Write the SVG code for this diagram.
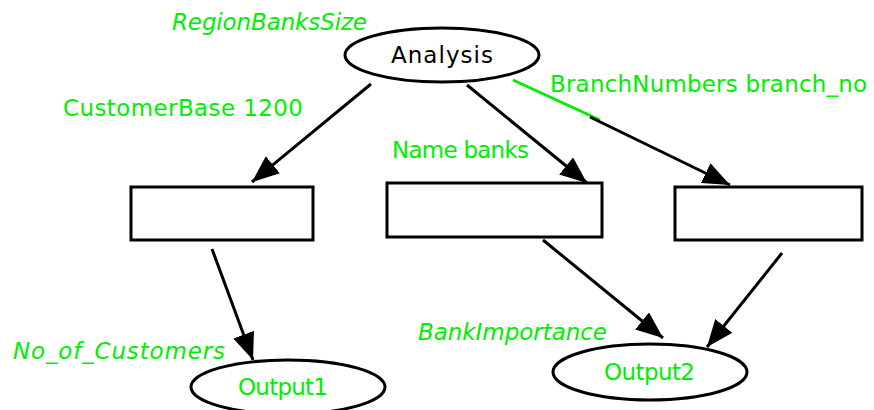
<svg xmlns="http://www.w3.org/2000/svg" width="874" height="410" viewBox="0 0 874 410">
<style>
.node{fill:#fff;stroke:#000;stroke-width:3}
.edge{stroke:#000;stroke-width:3;fill:none;marker-end:url(#ah)}
.lbl{font-family:"DejaVu Sans",Verdana,sans-serif;font-size:23px;fill:#00ee00}
.it{font-style:italic}
.nt{font-family:"DejaVu Sans",Verdana,sans-serif;font-size:23px}
</style>
<defs>
<marker id="ah" markerUnits="userSpaceOnUse" markerWidth="28" markerHeight="24" refX="27" refY="11" orient="auto">
<path d="M0,0 L27,11 L0,22 z" fill="#000"/>
</marker>
</defs>
<rect width="874" height="410" fill="#fff"/>
<g id="connectors">
<line class="edge" x1="371" y1="84" x2="252" y2="182"/>
<line class="edge" x1="467" y1="85" x2="587" y2="183"/>
<line x1="513" y1="80" x2="600" y2="120" stroke="#00ee00" stroke-width="3"/>
<line class="edge" x1="590" y1="117" x2="730" y2="185"/>
<line class="edge" x1="212" y1="249" x2="253" y2="360"/>
<line class="edge" x1="543" y1="240" x2="663" y2="338"/>
<line class="edge" x1="782" y1="253" x2="707" y2="347"/>
</g>
<g id="analysis">
<ellipse class="node" cx="442" cy="55" rx="97" ry="27"/>
<text class="nt" x="391" y="63" font-size="25" textLength="102" lengthAdjust="spacing">Analysis</text>
</g>
<g id="box1"><rect class="node" x="131" y="187" width="182" height="53"/></g>
<g id="box2"><rect class="node" x="387" y="183" width="215" height="54"/></g>
<g id="box3"><rect class="node" x="675" y="187" width="187" height="53"/></g>
<g id="output1">
<ellipse class="node" cx="288" cy="387" rx="97" ry="27"/>
<text class="nt" x="238" y="395" fill="#00ee00" textLength="90" lengthAdjust="spacing">Output1</text>
</g>
<g id="output2">
<ellipse class="node" cx="650" cy="372" rx="97" ry="28"/>
<text class="nt" x="604" y="380" fill="#00ee00" textLength="91" lengthAdjust="spacing">Output2</text>
</g>
<g id="labels">
<text class="lbl it" x="172" y="30" textLength="195" lengthAdjust="spacing">RegionBanksSize</text>
<text class="lbl" x="63" y="116" textLength="240" lengthAdjust="spacing">CustomerBase 1200</text>
<text class="lbl" x="550" y="92" textLength="317" lengthAdjust="spacing">BranchNumbers branch_no</text>
<text class="lbl" x="392" y="158" textLength="137" lengthAdjust="spacing">Name banks</text>
<text class="lbl it" x="13" y="359" textLength="212" lengthAdjust="spacing">No_of_Customers</text>
<text class="lbl it" x="418" y="340" textLength="189" lengthAdjust="spacing">BankImportance</text>
</g>
</svg>
